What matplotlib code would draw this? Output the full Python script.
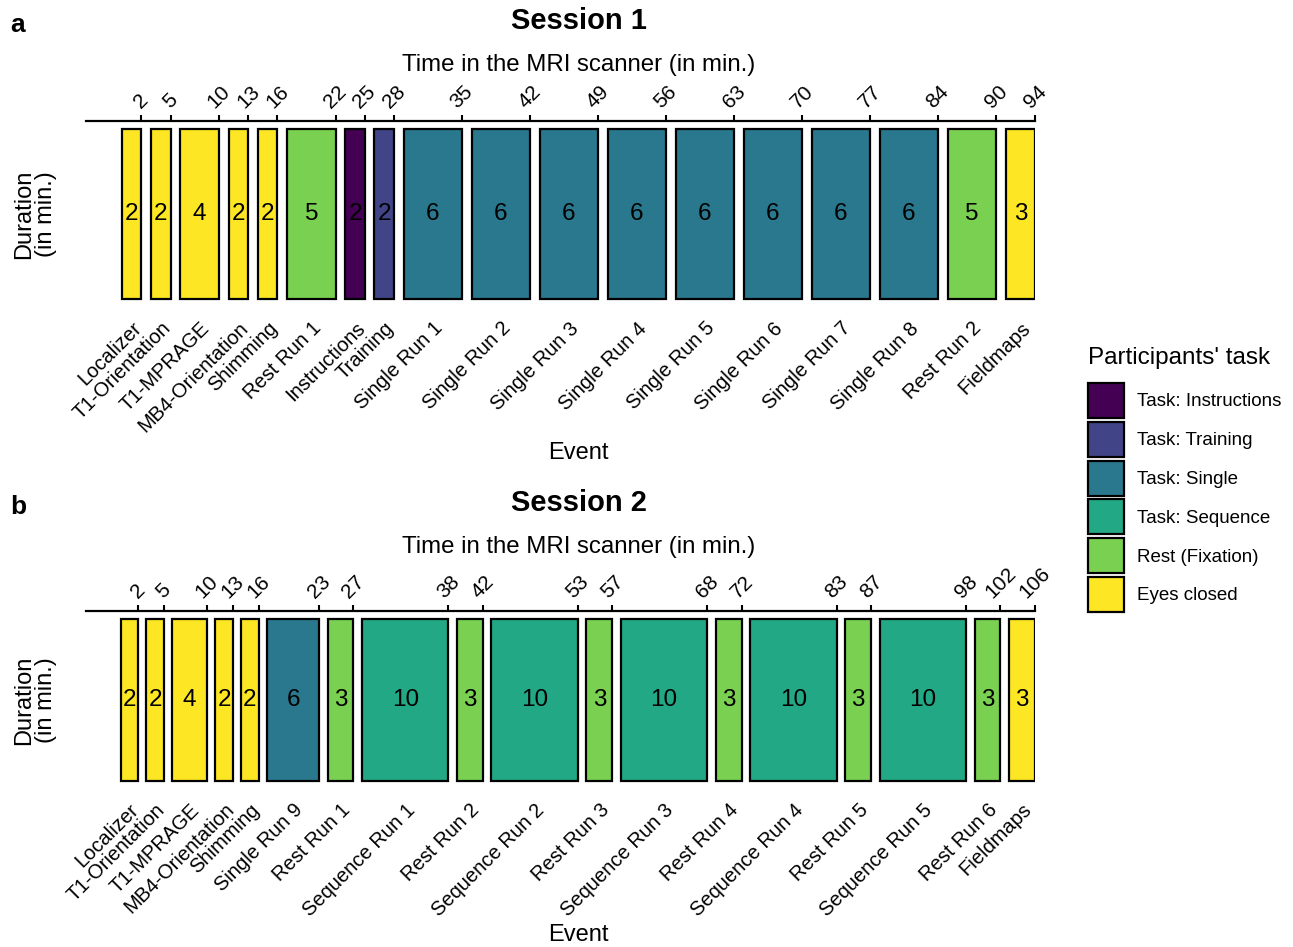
import matplotlib.pyplot as plt
from matplotlib.patches import Patch

plt.rcParams['font.family'] = ['Liberation Sans', 'DejaVu Sans']

# participants' task categories and viridis colours
task_names = ['Task: Instructions', 'Task: Training', 'Task: Single',
              'Task: Sequence', 'Rest (Fixation)', 'Eyes closed']
task_colors = ['#440154', '#414487', '#2A788E', '#22A884', '#7AD151', '#FDE725']

# session 1
s1_events = ['Localizer', 'T1-Orientation', 'T1-MPRAGE', 'MB4-Orientation', 'Shimming',
             'Rest Run 1', 'Instructions', 'Training',
             'Single Run 1', 'Single Run 2', 'Single Run 3', 'Single Run 4',
             'Single Run 5', 'Single Run 6', 'Single Run 7', 'Single Run 8',
             'Rest Run 2', 'Fieldmaps']
s1_durations = [2, 2, 4, 2, 2, 5, 2, 2, 6, 6, 6, 6, 6, 6, 6, 6, 5, 3]
s1_ends = [2, 5, 10, 13, 16, 22, 25, 28, 35, 42, 49, 56, 63, 70, 77, 84, 90, 94]
s1_tasks = ['Eyes closed'] * 5 + ['Rest (Fixation)', 'Task: Instructions', 'Task: Training'] + \
           ['Task: Single'] * 8 + ['Rest (Fixation)', 'Eyes closed']

# session 2
s2_events = ['Localizer', 'T1-Orientation', 'T1-MPRAGE', 'MB4-Orientation', 'Shimming',
             'Single Run 9', 'Rest Run 1', 'Sequence Run 1', 'Rest Run 2', 'Sequence Run 2',
             'Rest Run 3', 'Sequence Run 3', 'Rest Run 4', 'Sequence Run 4',
             'Rest Run 5', 'Sequence Run 5', 'Rest Run 6', 'Fieldmaps']
s2_durations = [2, 2, 4, 2, 2, 6, 3, 10, 3, 10, 3, 10, 3, 10, 3, 10, 3, 3]
s2_ends = [2, 5, 10, 13, 16, 23, 27, 38, 42, 53, 57, 68, 72, 83, 87, 98, 102, 106]
s2_tasks = ['Eyes closed'] * 5 + ['Task: Single'] + \
           ['Rest (Fixation)', 'Task: Sequence'] * 5 + ['Rest (Fixation)', 'Eyes closed']

color_of = dict(zip(task_names, task_colors))

W, H = 1293, 947
fig = plt.figure(figsize=(W / 100, H / 100), dpi=100)


def px(x, y):
    return x / W, 1 - y / H


def draw_session(top_px, bottom_px, events, durations, ends, tasks, xlim):
    left, right = 86, 1035
    ax = fig.add_axes([left / W, 1 - bottom_px / H, (right - left) / W, (bottom_px - top_px) / H])
    starts = [e - d for e, d in zip(ends, durations)]
    colors = [color_of[t] for t in tasks]
    ax.bar(starts, 1, width=durations, align='edge', color=colors,
           edgecolor='black', linewidth=1.6, zorder=2)
    for s, d in zip(starts, durations):
        ax.text(s + d / 2, 0.5, str(d), ha='center', va='center', fontsize=17.5, zorder=3)
    ax.set_xlim(xlim)
    ax.set_ylim(-0.05, 1.05)
    for sp in ax.spines.values():
        sp.set_visible(False)
    ax.set_yticks([])
    centers = [s + d / 2 for s, d in zip(starts, durations)]
    ax.set_xticks(centers)
    ax.set_xticklabels(events, rotation=45, ha='right', rotation_mode='anchor', fontsize=14.5)
    ax.tick_params(axis='x', length=0, pad=8)

    top = ax.secondary_xaxis('top')
    top.set_xticks(ends, labels=[str(e) for e in ends], rotation=45)
    top.tick_params(length=4.5, width=1.5, pad=2, labelsize=15)
    top.spines['top'].set_linewidth(1.6)
    return ax


draw_session(120.7, 307.5, s1_events, s1_durations, s1_ends, s1_tasks, (-3.7, 94))
draw_session(610.7, 789, s2_events, s2_durations, s2_ends, s2_tasks, (-4.0, 106))

# titles and axis texts
cx = 578.5
for (y_title, y_time, y_event, y_dur, letter, y_letter, name) in [
        (21, 65, 453, 214, 'a', 25, 'Session 1'),
        (503, 547, 935, 700, 'b', 507, 'Session 2')]:
    fig.text(*px(cx, y_title), name, ha='center', va='center', fontsize=21, fontweight='bold')
    fig.text(*px(cx, y_time), 'Time in the MRI scanner (in min.)', ha='center', va='center', fontsize=17.3)
    fig.text(*px(cx, y_event), 'Event', ha='center', va='center', fontsize=17)
    fig.text(*px(35, y_dur), 'Duration\n(in min.)', ha='center', va='center', fontsize=17,
             rotation=90, linespacing=1.0)
    fig.text(*px(18, y_letter), letter, ha='center', va='center', fontsize=19, fontweight='bold')

# legend
fig.text(*px(1088, 358), "Participants' task", ha='left', va='center', fontsize=17.5)
handles = [Patch(facecolor=c, edgecolor='black', linewidth=1.6) for c in task_colors]
leg = fig.legend(handles, task_names, loc='upper left', bbox_to_anchor=px(1088, 383),
                 frameon=False, fontsize=13.5, handlelength=1.9, handleheight=2.5,
                 labelspacing=0.2, handletextpad=0.7, borderpad=0, borderaxespad=0)

fig.savefig('out.png', dpi=100)
